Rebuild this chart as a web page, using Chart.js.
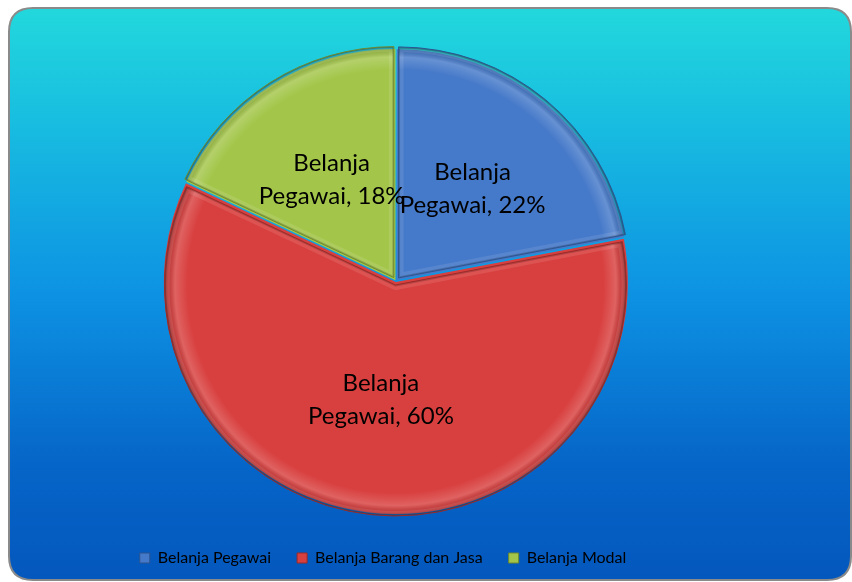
<!DOCTYPE html>
<html>
<head>
<meta charset="utf-8">
<script src="https://cdn.jsdelivr.net/npm/chart.js@4.4.0/dist/chart.umd.min.js"></script>
<style>
  html, body { margin: 0; padding: 0; background: #fff; }
  #wrap { position: relative; width: 852px; height: 582px; }
</style>
</head>
<body>
<div id="wrap"><canvas id="myChart" width="852" height="582"></canvas></div>
<script>
const categories = ["Belanja Pegawai", "Belanja Barang dan Jasa", "Belanja Modal"];
const shares = [22, 60, 18];
// the slice captions all read "Belanja Pegawai"
const sliceCaptions = ["Belanja\nPegawai, 22%", "Belanja\nPegawai, 60%", "Belanja\nPegawai, 18%"];
const sliceColors = ["#4579c9", "#d8403f", "#a3c64a"];
const edgeColors = ["#2d5590", "#9a2a28", "#6f8a2c"];
const SLICE_OFFSET = 4;

// rounded frame with the cyan-to-blue fill
const frame = {
  id: "frame",
  beforeDraw(chart) {
    const ctx = chart.ctx;
    const x = 9, y = 8, w = 842, h = 572, r = 24;
    ctx.save();
    ctx.beginPath();
    ctx.moveTo(x + r, y);
    ctx.lineTo(x + w - r, y);
    ctx.quadraticCurveTo(x + w, y, x + w, y + r);
    ctx.lineTo(x + w, y + h - r);
    ctx.quadraticCurveTo(x + w, y + h, x + w - r, y + h);
    ctx.lineTo(x + r, y + h);
    ctx.quadraticCurveTo(x, y + h, x, y + h - r);
    ctx.lineTo(x, y + r);
    ctx.quadraticCurveTo(x, y, x + r, y);
    ctx.closePath();
    const g = ctx.createLinearGradient(0, y, 0, y + h);
    g.addColorStop(0, "#22d8dc");
    g.addColorStop(0.2, "#18bde0");
    g.addColorStop(0.5, "#0d92e3");
    g.addColorStop(0.8, "#0665c8");
    g.addColorStop(1, "#0457bd");
    ctx.fillStyle = g;
    ctx.fill();
    ctx.lineWidth = 2;
    ctx.strokeStyle = "#8a8a8a";
    ctx.stroke();
    ctx.restore();
  }
};

// soft bevel on the rim and edges of every slice
const bevel = {
  id: "bevel",
  afterDatasetsDraw(chart) {
    const ctx = chart.ctx;
    const meta = chart.getDatasetMeta(0);
    meta.data.forEach((arc, i) => {
      const p = arc.getProps(["x", "y", "startAngle", "endAngle", "outerRadius"], true);
      const mid = (p.startAngle + p.endAngle) / 2;
      const cx = p.x + Math.cos(mid) * SLICE_OFFSET;
      const cy = p.y + Math.sin(mid) * SLICE_OFFSET;
      const r = p.outerRadius;
      ctx.save();
      ctx.beginPath();
      ctx.moveTo(cx, cy);
      ctx.arc(cx, cy, r, p.startAngle, p.endAngle);
      ctx.closePath();
      ctx.clip();
      const g = ctx.createRadialGradient(cx, cy, 0, cx, cy, r);
      g.addColorStop(0, "rgba(255,255,255,0)");
      g.addColorStop(0.9, "rgba(255,255,255,0)");
      g.addColorStop(0.955, "rgba(255,255,255,0.18)");
      g.addColorStop(0.985, "rgba(0,0,0,0.12)");
      g.addColorStop(1, "rgba(0,0,0,0.35)");
      ctx.fillStyle = g;
      ctx.fill();
      ctx.lineJoin = "round";
      ctx.lineWidth = 10;
      ctx.strokeStyle = "rgba(255,255,255,0.10)";
      ctx.stroke();
      ctx.lineWidth = 3;
      ctx.strokeStyle = "rgba(0,0,0,0.18)";
      ctx.stroke();
      ctx.restore();
      ctx.save();
      ctx.beginPath();
      ctx.moveTo(cx, cy);
      ctx.arc(cx, cy, r, p.startAngle, p.endAngle);
      ctx.closePath();
      ctx.lineWidth = 1;
      ctx.strokeStyle = edgeColors[i];
      ctx.stroke();
      ctx.restore();
    });
  }
};

// two-line captions inside each slice
const sliceText = {
  id: "sliceText",
  afterDatasetsDraw(chart) {
    const ctx = chart.ctx;
    const meta = chart.getDatasetMeta(0);
    ctx.save();
    ctx.font = "24px Lato, 'Open Sans', sans-serif";
    ctx.fillStyle = "#000";
    ctx.textAlign = "center";
    ctx.textBaseline = "middle";
    meta.data.forEach((arc, i) => {
      const p = arc.getProps(["x", "y", "startAngle", "endAngle", "outerRadius"], true);
      const mid = (p.startAngle + p.endAngle) / 2;
      const d = p.outerRadius * 0.52;
      const cx = p.x + Math.cos(mid) * d;
      const cy = p.y + Math.sin(mid) * d;
      const lines = sliceCaptions[i].split("\n");
      lines.forEach((t, k) => ctx.fillText(t, cx, cy + (k - (lines.length - 1) / 2) * 33));
    });
    ctx.restore();
  }
};

const ctx = document.getElementById("myChart");
new Chart(ctx, {
  type: "pie",
  data: {
    labels: categories,
    datasets: [{
      data: shares,
      backgroundColor: sliceColors,
      borderWidth: 0,
      offset: SLICE_OFFSET,
      hoverOffset: SLICE_OFFSET
    }]
  },
  options: {
    responsive: false,
    animation: false,
    layout: { padding: { left: 10, right: 96, top: 38, bottom: 6 } },
    plugins: {
      tooltip: { enabled: false },
      // empty side boxes keep the pie to the right width
      title: { display: true, position: "left", text: " ", padding: 0, font: { size: 153, lineHeight: 1 } },
      subtitle: { display: true, position: "right", text: " ", padding: 0, font: { size: 127, lineHeight: 1 } },
      legend: {
        position: "bottom",
        labels: {
          boxWidth: 10,
          boxHeight: 10,
          padding: 26,
          color: "#000",
          font: { size: 16, family: "Lato, 'Open Sans', sans-serif" },
          generateLabels(chart) {
            return categories.map((t, i) => ({
              text: t,
              fillStyle: sliceColors[i],
              strokeStyle: edgeColors[i],
              lineWidth: 1,
              index: i
            }));
          }
        }
      }
    }
  },
  plugins: [frame, bevel, sliceText]
});
</script>
</body>
</html>
